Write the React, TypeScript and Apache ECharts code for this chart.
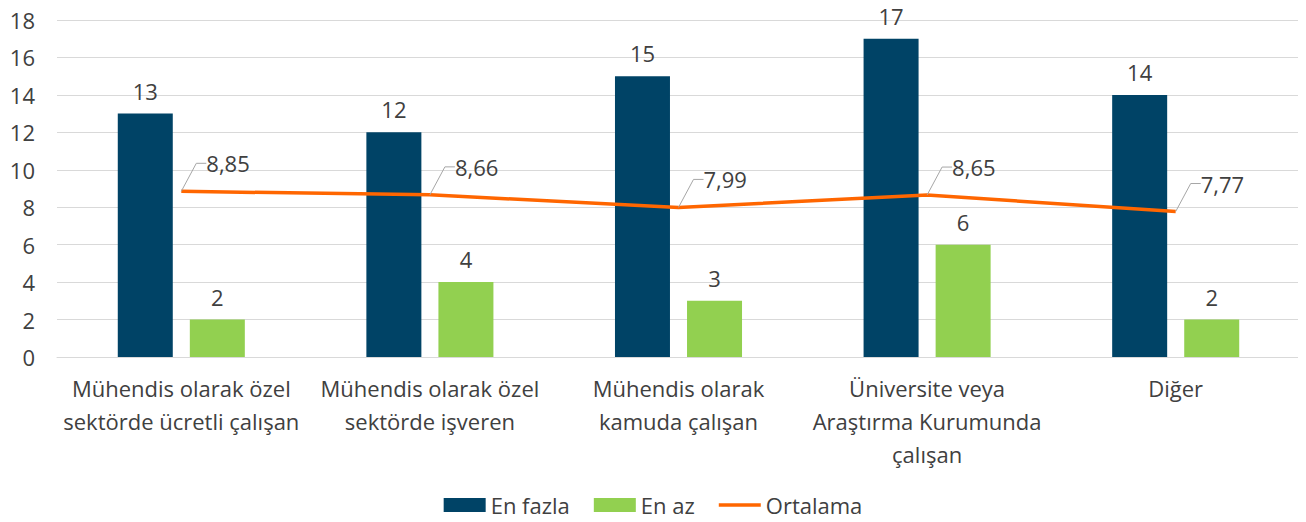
import React, { useEffect, useRef } from "react";
import * as echarts from "echarts";

const categories = [
  "Mühendis olarak özel\nsektörde ücretli çalışan",
  "Mühendis olarak özel\nsektörde işveren",
  "Mühendis olarak\nkamuda çalışan",
  "Üniversite veya\nAraştırma Kurumunda\nçalışan",
  "Diğer",
];
const enFazla = [13, 12, 15, 17, 14];
const enAz = [2, 4, 3, 6, 2];
const ortalama = [8.85, 8.66, 7.99, 8.65, 7.77];

const FONT = "'Open Sans', 'Noto Sans', sans-serif";
const TXT = "#404040";
const FS = 22;

export default function App() {
  const ref = useRef<HTMLDivElement>(null);
  useEffect(() => {
    if (!ref.current) return;
    const chart = echarts.init(ref.current, undefined, { renderer: "svg" });
    chart.setOption({
      animation: false,
      textStyle: { fontFamily: FONT },
      grid: { left: 57, right: 6, top: 20, bottom: 165, containLabel: false },
      legend: {
        bottom: 1,
        left: "center",
        itemWidth: 42,
        itemHeight: 14,
        itemGap: 24,
        textStyle: { fontSize: FS, color: TXT, fontFamily: FONT },
        data: [
          { name: "En fazla", icon: "rect" },
          { name: "En az", icon: "rect" },
          { name: "Ortalama", icon: "path://M0,0 L42,0 L42,3.5 L0,3.5 Z" },
        ],
      },
      xAxis: {
        type: "category",
        data: categories,
        axisLine: { lineStyle: { color: "#D9D9D9", width: 1 } },
        axisTick: { show: false },
        axisLabel: {
          interval: 0,
          fontSize: FS,
          lineHeight: 33,
          color: TXT,
          margin: 14,
          fontFamily: FONT,
        },
      },
      yAxis: {
        type: "value",
        min: 0,
        max: 18,
        interval: 2,
        axisLine: { show: false },
        axisTick: { show: false },
        splitLine: { lineStyle: { color: "#D9D9D9", width: 1 } },
        axisLabel: { fontSize: FS, color: TXT, margin: 22, fontFamily: FONT },
      },
      series: [
        {
          name: "En fazla",
          type: "bar",
          data: enFazla,
          barWidth: 55,
          barGap: "31%",
          itemStyle: { color: "#004366" },
          label: {
            show: true,
            position: "top",
            distance: 12,
            fontSize: FS,
            color: TXT,
            fontFamily: FONT,
          },
        },
        {
          name: "En az",
          type: "bar",
          data: enAz,
          barWidth: 55,
          itemStyle: { color: "#92D050" },
          label: {
            show: true,
            position: "top",
            distance: 12,
            fontSize: FS,
            color: TXT,
            fontFamily: FONT,
          },
        },
        {
          name: "Ortalama",
          type: "line",
          data: ortalama,
          symbol: "circle",
          symbolSize: 0.01,
          showSymbol: true,
          lineStyle: { color: "#FF6600", width: 3.5 },
          itemStyle: { color: "#FF6600" },
          label: {
            show: true,
            position: "right",
            distance: 0,
            fontSize: FS,
            color: TXT,
            fontFamily: FONT,
            padding: [0, 0, 0, 5],
            formatter: (p: any) => Number(p.value).toFixed(2).replace(".", ","),
          },
          labelLayout: { dx: 20, dy: -28 },
          labelLine: {
            show: true,
            length2: 10,
            lineStyle: { color: "#A6A6A6", width: 1 },
          },
        },
      ],
    });
    return () => chart.dispose();
  }, []);
  return <div ref={ref} style={{ width: 1306, height: 522, margin: -8 }} />;
}
